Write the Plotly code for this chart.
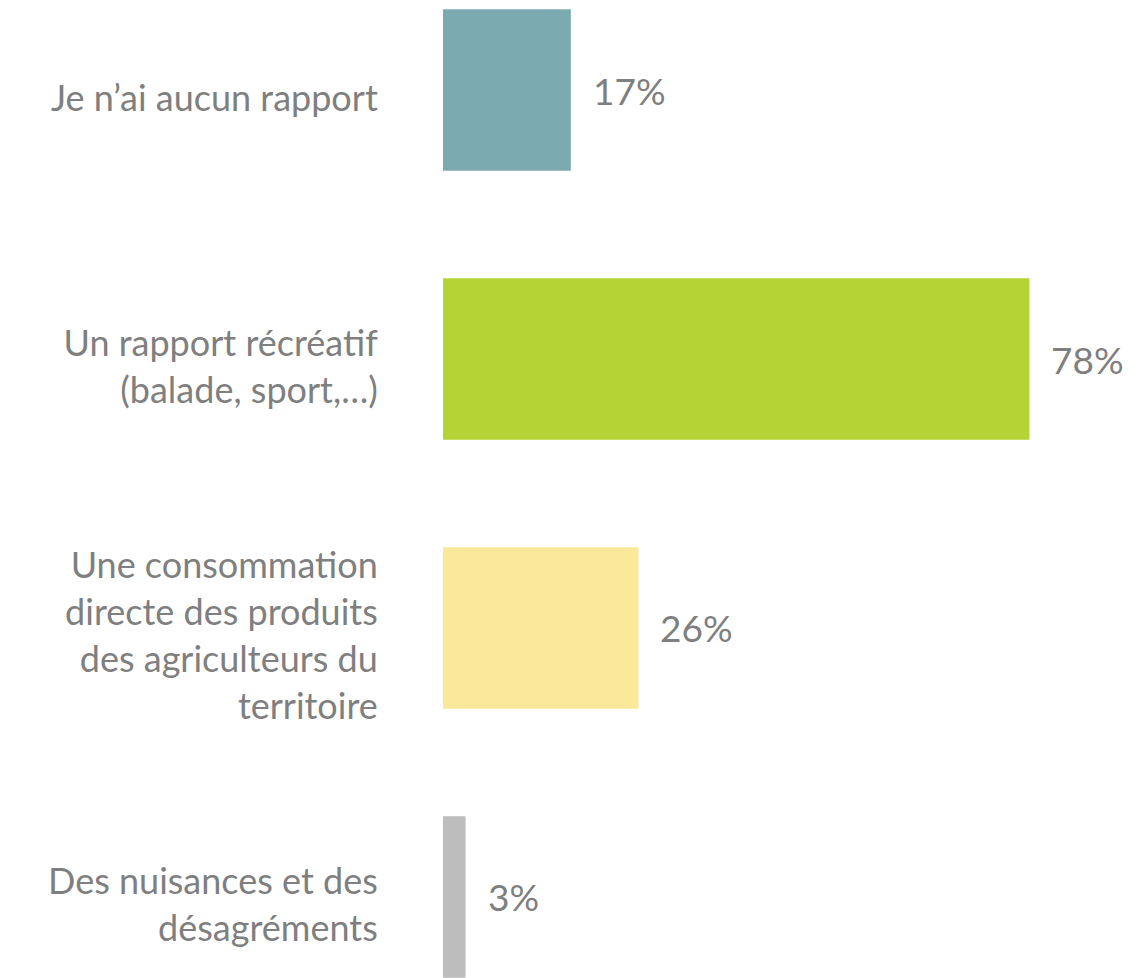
import plotly.graph_objects as go

categories = [
    "Je n’ai aucun rapport",
    "Un rapport récréatif<br>(balade, sport,…)",
    "Une consommation<br>directe des produits<br>des agriculteurs du<br>territoire",
    "Des nuisances et des<br>désagréments",
]
values = [17, 78, 26, 3]
labels = ["17%", "78%", "26%", "3%"]
colors = ["#7BABB0", "#B5D334", "#FBE898", "#BDBDBD"]

FONT = "Lato, 'Open Sans', sans-serif"
TXT = "#7F7F7F"

fig = go.Figure(
    go.Bar(
        y=categories,
        x=values,
        orientation="h",
        marker=dict(color=colors, line=dict(width=0)),
        width=0.6,
        hoverinfo="skip",
    )
)

for c, v, t in zip(categories, values, labels):
    fig.add_annotation(
        x=v, y=c, text=t, showarrow=False, xanchor="left", yanchor="middle",
        xshift=20, font=dict(family=FONT, size=37, color=TXT),
    )

fig.update_layout(
    width=1144, height=978,
    margin=dict(l=435, r=0, t=0, b=0),
    paper_bgcolor="white", plot_bgcolor="white",
    showlegend=False,
    font=dict(family=FONT, size=36, color=TXT),
)
fig.update_xaxes(range=[0, 94.3], visible=False)
fig.update_yaxes(
    type="category",
    categoryorder="array", categoryarray=categories,
    range=[3.331, -0.305],
    showgrid=False, zeroline=False, showline=False,
    ticks="outside", ticklen=57, tickcolor="rgba(0,0,0,0)",
    ticklabelshift=-8,
    tickfont=dict(family=FONT, size=36, color=TXT),
    automargin=False,
)

fig.write_html("out.html")
